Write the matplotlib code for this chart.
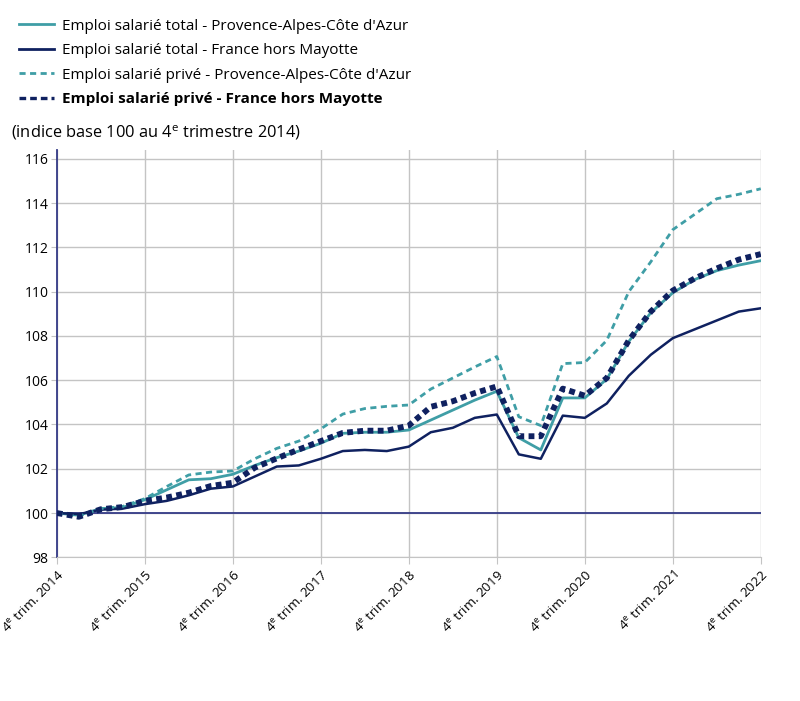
import numpy as np
import matplotlib
matplotlib.use("Agg")
import matplotlib.pyplot as plt

plt.rcParams['font.family'] = ['Open Sans', 'DejaVu Sans']

years = [2014, 2015, 2016, 2017, 2018, 2019, 2020, 2021, 2022]
tick_labels = [r"4$^{\mathregular{e}}$ trim. %d" % y for y in years]

# indices trimestriels, 4e trim. 2014 -> 4e trim. 2022
total_paca = [100.0, 99.9, 100.2, 100.25, 100.6, 101.05, 101.5, 101.55, 101.75,
              102.15, 102.5, 102.8, 103.15, 103.6, 103.65, 103.65, 103.75,
              104.2, 104.65, 105.1, 105.5, 103.4, 102.85, 105.2, 105.2,
              106.05, 107.75, 109.05, 109.95, 110.55, 110.95, 111.2, 111.4]
total_fr = [100.0, 99.95, 100.15, 100.2, 100.4, 100.55, 100.8, 101.1, 101.2,
            101.65, 102.1, 102.15, 102.45, 102.8, 102.85, 102.8, 103.0,
            103.65, 103.85, 104.3, 104.45, 102.65, 102.45, 104.4, 104.3,
            104.95, 106.2, 107.15, 107.9, 108.3, 108.7, 109.1, 109.25]
prive_paca = [100.0, 99.85, 100.2, 100.3, 100.65, 101.2, 101.72, 101.85, 101.9,
              102.45, 102.92, 103.25, 103.8, 104.47, 104.72, 104.82, 104.88,
              105.6, 106.1, 106.6, 107.07, 104.35, 103.95, 106.75, 106.8,
              107.8, 110.0, 111.35, 112.8, 113.5, 114.2, 114.4, 114.65]
prive_fr = [100.0, 99.83, 100.17, 100.27, 100.55, 100.7, 100.92, 101.22, 101.37,
            102.05, 102.47, 102.87, 103.25, 103.62, 103.72, 103.72, 103.95,
            104.8, 105.05, 105.42, 105.72, 103.47, 103.47, 105.62, 105.3,
            106.1, 107.8, 109.1, 110.05, 110.6, 111.05, 111.45, 111.7]

labels = ["Emploi salarié total - Provence-Alpes-Côte d'Azur",
          "Emploi salarié total - France hors Mayotte",
          "Emploi salarié privé - Provence-Alpes-Côte d'Azur",
          "Emploi salarié privé - France hors Mayotte"]

teal = '#3f9ea6'
navy = '#0f2160'
grid_c = '#c4c4c4'

fig = plt.figure(figsize=(8, 7.01), dpi=100)
ax = fig.add_axes([0.071, 0.205, 0.88, 0.581])

q = np.arange(len(total_paca)) / 4.0

ax.axhline(100, color='#343a86', lw=1.3, zorder=2)
l1, = ax.plot(q, total_paca, color=teal, lw=2.0, zorder=3)
l2, = ax.plot(q, total_fr, color=navy, lw=1.8, zorder=3)
l3, = ax.plot(q, prive_paca, color=teal, lw=2.0, ls=(0, (2.2, 1.6)), zorder=4)
l4, = ax.plot(q, prive_fr, color=navy, lw=4.2, ls=(0, (1.0, 0.75)), zorder=5)

ax.set_xlim(0, 8)
ax.set_ylim(98, 116.4)
ax.set_yticks(np.arange(98, 117, 2))
ax.set_xticks(np.arange(0, 9))
ax.set_xticklabels(tick_labels, rotation=45, ha='right', rotation_mode='anchor',
                   fontsize=9.5)
ax.tick_params(axis='y', labelsize=10, length=4, color=grid_c, pad=2)
ax.tick_params(axis='x', length=5, color=grid_c, pad=3)

ax.grid(True, color=grid_c, lw=1.0)
ax.set_axisbelow(True)
for s in ['top', 'right']:
    ax.spines[s].set_visible(False)
ax.spines['bottom'].set_color(grid_c)
ax.spines['left'].set_color('#343a86')
ax.spines['left'].set_linewidth(1.3)

leg = fig.legend([l1, l2, l3, l4], labels, loc='upper left',
                 bbox_to_anchor=(0.006, 0.993), frameon=False, fontsize=11,
                 handlelength=2.3, handletextpad=0.55, labelspacing=0.62)
leg.get_texts()[3].set_fontweight('bold')
for h in leg.legend_handles:
    h.set_linewidth(2.0)
leg.legend_handles[3].set_linewidth(2.4)
leg.legend_handles[3].set_linestyle((0, (2.0, 1.2)))

fig.text(0.014, 0.797, r"(indice base 100 au 4$^{\mathregular{e}}$ trimestre 2014)",
         fontsize=11.8, ha='left', va='bottom')

fig.savefig('out.png', dpi=100)
